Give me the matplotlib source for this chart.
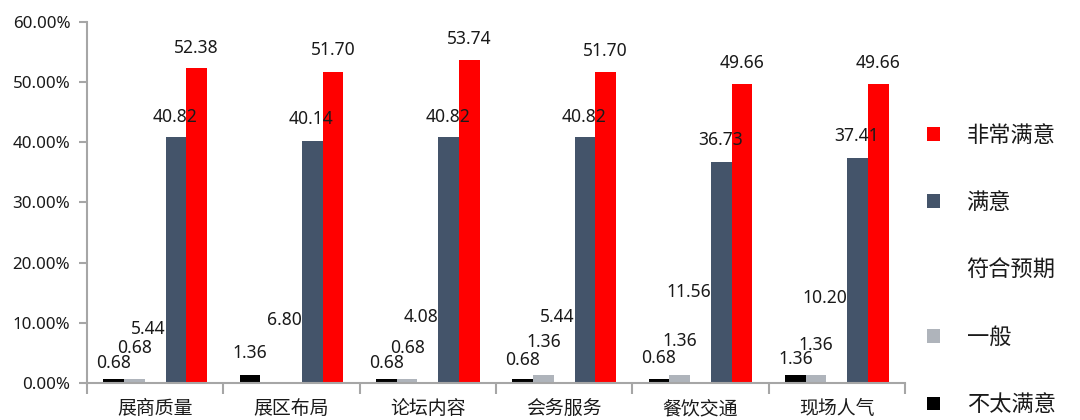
import matplotlib
matplotlib.use("Agg")
import matplotlib.pyplot as plt
from matplotlib.patches import Patch
import numpy as np

categories = ["展商质量", "展区布局", "论坛内容", "会务服务", "餐饮交通", "现场人气"]
series_names = ["不太满意", "一般", "符合预期", "满意", "非常满意"]
v_butai = [0.68, 1.36, 0.68, 0.68, 0.68, 1.36]
v_yiban = [0.68, 0.0, 0.68, 1.36, 1.36, 1.36]
v_fuhe = [5.44, 6.80, 4.08, 5.44, 11.56, 10.20]
v_manyi = [40.82, 40.14, 40.82, 40.82, 36.73, 37.41]
v_feichang = [52.38, 51.70, 53.74, 51.70, 49.66, 49.66]
series_values = [v_butai, v_yiban, v_fuhe, v_manyi, v_feichang]

colors = ["#000000", "#AFB4BB", "#FFFFFF", "#44546A", "#FF0000"]
# label vertical offsets (pixels above bar top, to text centre)
label_dy = [
    [16, 22, 16, 19, 21, 16],
    [31, 0, 31, 33, 34, 30],
    [21, 22, 41, 33, 21, 24],
    [20, 22, 20, 20, 22, 22],
    [20, 22, 21, 21, 21, 21],
]
label_dx = [0, 0, 0, -1, 0]

plt.rcParams['font.family'] = ['Noto Sans', 'Noto Sans CJK SC', 'DejaVu Sans']

fig = plt.figure(figsize=(10.8, 4.2), dpi=100)
ax = fig.add_axes([87/1080, 37/420, (905-87)/1080, (383-22)/420])

n = len(categories)
x = np.arange(n)
w = 0.152
axis_col = "#A6A6A6"
txt_col = "#1A1A1A"

for i, (vals, col) in enumerate(zip(series_values, colors)):
    pos = x + (i - 2) * w
    ax.bar(pos, vals, width=w, color=col, linewidth=0, zorder=2)
    for j, v in enumerate(vals):
        if v <= 0:
            continue
        if i == 2:
            ax.annotate(f"{v:.2f}", (pos[j] + w / 2, v), xytext=(0, label_dy[i][j]),
                        textcoords="offset pixels", ha="right", va="center",
                        fontsize=12.6, color=txt_col, zorder=3)
        else:
            ax.annotate(f"{v:.2f}", (pos[j], v), xytext=(label_dx[i], label_dy[i][j]),
                        textcoords="offset pixels", ha="center", va="center",
                        fontsize=12.6, color=txt_col, zorder=3)

ax.set_xlim(-0.5, n - 0.5)
ax.set_ylim(0, 60)
ax.set_yticks(np.arange(0, 61, 10))
ax.set_yticklabels([f"{t:.2f}%" for t in np.arange(0, 61, 10)], fontsize=12.2, color=txt_col)

ax.set_xticks(np.arange(n + 1) - 0.5)
ax.set_xticklabels([])
ax.set_xticks(x, minor=True)
ax.set_xticklabels(categories, minor=True, fontsize=13.6, color=txt_col,
                   family=['Noto Sans CJK SC', 'DejaVu Sans'])
ax.tick_params(axis='x', which='major', length=8, width=1.5, color=axis_col, direction='out')
ax.tick_params(axis='x', which='minor', length=0, pad=11)
ax.tick_params(axis='y', length=6, width=1.5, color=axis_col, pad=6)

for s in ["top", "right"]:
    ax.spines[s].set_visible(False)
for s in ["left", "bottom"]:
    ax.spines[s].set_color(axis_col)
    ax.spines[s].set_linewidth(1.5)

handles = [Patch(facecolor=c, edgecolor='none') for c in colors]
leg = fig.legend(handles[::-1], series_names[::-1], loc="center left",
                 bbox_to_anchor=(927/1080, 1 - 270/420), frameon=False,
                 prop={'family': ['Noto Sans CJK SC', 'DejaVu Sans'], 'size': 16},
                 handlelength=0.58, handleheight=0.58, handletextpad=1.2,
                 labelspacing=2.0, borderpad=0, borderaxespad=0)
for t in leg.get_texts():
    t.set_color(txt_col)

fig.savefig("out.png", dpi=100)
